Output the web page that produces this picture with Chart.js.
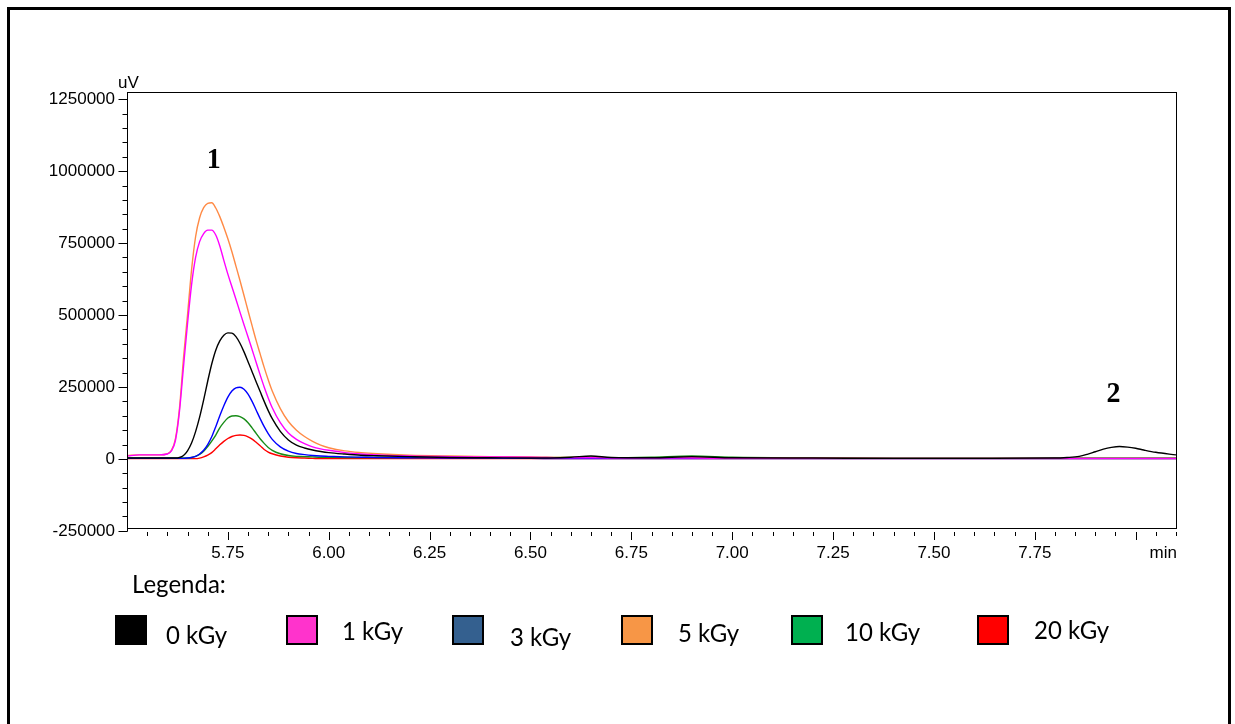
<!DOCTYPE html>
<html>
<head>
<meta charset="utf-8">
<script src="https://cdn.jsdelivr.net/npm/chart.js@4.4.1/dist/chart.umd.min.js"></script>
<style>
  html, body { margin: 0; padding: 0; background: #fff; }
  canvas { display: block; }
</style>
</head>
<body>
<canvas id="chart" width="1235" height="724"></canvas>
<script>
// Retention time (min) of every sample in the traces
const retentionTimes = [
  5.50, 5.53, 5.56, 5.58,
  5.60, 5.61, 5.62, 5.63, 5.64, 5.65, 5.66, 5.67, 5.68, 5.69,
  5.70, 5.71, 5.72, 5.73, 5.74, 5.75, 5.76, 5.77, 5.78, 5.79,
  5.80, 5.81, 5.82, 5.83, 5.84, 5.85, 5.86,
  5.88, 5.90, 5.92, 5.94, 5.96, 5.98, 6.00,
  6.04, 6.08, 6.12,
  6.20, 6.30, 6.40, 6.50, 6.60,
  6.65, 6.70, 6.80, 6.90, 7.00,
  7.20, 7.40, 7.60, 7.80,
  7.83, 7.86, 7.88, 7.90, 7.92, 7.94, 7.96, 7.98, 8.00, 8.02, 8.05, 8.10
];

const doseLabels = ['0 kGy', '1 kGy', '3 kGy', '5 kGy', '10 kGy', '20 kGy'];

// Detector signal (uV) for each irradiation dose
const signal0kGy = [
  3000, 3000, 3000, 3000,
  3000, 3000, 3000, 5000, 12000, 28000, 55000, 95000, 145000, 205000,
  270000, 330000, 378000, 410000, 430000, 438000, 437000, 425000, 402000, 372000,
  338000, 303000, 268000, 234000, 200000, 168000, 140000,
  96000, 66000, 48000, 38000, 31000, 26000, 22000,
  17000, 13000, 11000,
  8000, 5000, 4000, 3000, 6000,
  10000, 5000, 4000, 8000, 4000,
  3000, 2000, 2000, 3000,
  5000, 9000, 16000, 25000, 34000, 40000, 43000, 41000, 37000, 31000, 23000, 14000
];
const signal1kGy = [
  10000, 14000, 14000, 14000,
  17000, 28000, 64000, 165000, 320000, 470000, 605000, 700000, 755000, 783000,
  795000, 795000, 778000, 740000, 690000, 642000, 598000, 555000, 510000, 466000,
  424000, 380000, 336000, 292000, 250000, 212000, 178000,
  126000, 90000, 68000, 53000, 42000, 35000, 30000,
  22000, 17000, 14000,
  10000, 8000, 7000, 6000, 4000,
  4000, 3000, 3000, 3000, 2000,
  2000, 2000, 2000, 2000,
  2000, 2000, 2000, 2000, 2000, 2000, 2000, 2000, 2000, 2000, 2000, 2000
];
const signal3kGy = [
  2000, 2000, 2000, 2000,
  2000, 2000, 2000, 2000, 2000, 3000, 5000, 9000, 17000, 30000,
  50000, 77000, 112000, 150000, 185000, 215000, 236000, 247000, 249000, 242000,
  225000, 200000, 170000, 140000, 112000, 88000, 68000,
  42000, 27000, 19000, 15000, 12000, 10000, 9000,
  7000, 6000, 5000,
  4000, 3000, 3000, 2000, 1000,
  1000, 1000, 1000, 1000, 1000,
  1000, 1000, 1000, 1000,
  1000, 1000, 1000, 1000, 1000, 1000, 1000, 1000, 1000, 1000, 1000, 1000
];
const signal5kGy = [
  12000, 14000, 14000, 14000,
  18000, 30000, 70000, 175000, 350000, 500000, 657000, 772000, 838000, 873000,
  888000, 890000, 872000, 842000, 805000, 765000, 720000, 670000, 620000, 568000,
  515000, 463000, 412000, 365000, 318000, 275000, 236000,
  175000, 130000, 100000, 78000, 61000, 48000, 39000,
  28000, 22000, 18000,
  13000, 10000, 8000, 7000, 5000,
  5000, 4000, 4000, 4000, 3000,
  3000, 2000, 2000, 2000,
  2000, 2000, 2000, 2000, 2000, 2000, 2000, 2000, 2000, 2000, 2000, 2000
];
const signal10kGy = [
  3000, 3000, 3000, 3000,
  3000, 3000, 3000, 3000, 3000, 3000, 5000, 9000, 16000, 27000,
  43000, 62000, 83000, 108000, 127000, 142000, 149000, 150000, 147000, 139000,
  126000, 108000, 89000, 70000, 54000, 40000, 30000,
  18000, 12000, 9000, 8000, 7000, 6000, 6000,
  5000, 5000, 5000,
  5000, 8000, 5000, 4000, 5000,
  6000, 4000, 6000, 10000, 6000,
  4000, 3000, 3000, 3000,
  3000, 3000, 3000, 3000, 3000, 3000, 3000, 3000, 3000, 3000, 3000, 3000
];
const signal20kGy = [
  1000, 1000, 1000, 1000,
  1000, 1000, 1000, 1000, 1000, 1000, 1000, 1000, 3000, 7000,
  13000, 22000, 35000, 49000, 61000, 71000, 78000, 82000, 83000, 82000,
  77000, 69000, 58000, 46000, 33000, 24000, 18000,
  10000, 6000, 4000, 3000, 2000, 1000, 1000,
  1000, 1000, 1000,
  1000, 1000, 1000, 1000, 1000,
  1000, 1000, 1000, 1000, 1000,
  1000, 1000, 1000, 1000,
  1000, 1000, 1000, 1000, 1000, 1000, 1000, 1000, 1000, 1000, 1000, 1000
];

// Axis ticks
const yTickValues = [-250000, 0, 250000, 500000, 750000, 1000000, 1250000];
const yTickLabels = ['-250000', '0', '250000', '500000', '750000', '1000000', '1250000'];
const xTickValues = [5.75, 6.00, 6.25, 6.50, 6.75, 7.00, 7.25, 7.50, 7.75];
const xTickLabels = ['5.75', '6.00', '6.25', '6.50', '6.75', '7.00', '7.25', '7.50', '7.75'];

// Peak numbering
const peakNames = ['1', '2'];
const peakTimes = [5.71, 7.95];

// ---------------------------------------------------------------------------

const seriesList = [signal0kGy, signal1kGy, signal3kGy, signal5kGy, signal10kGy, signal20kGy];
const lineColors = ['#000000', '#ff00ff', '#0000ff', '#ff8a45', '#178c17', '#ff0000'];
const swatchColors = ['#000000', '#ff33cc', '#34608f', '#f79646', '#00b050', '#ff0000'];

function fontAvailable(name) {
  const c = document.createElement('canvas').getContext('2d');
  const probe = '1250000 min uV';
  c.font = '40px monospace';
  const w0 = c.measureText(probe).width;
  c.font = '40px "' + name + '", monospace';
  return Math.abs(c.measureText(probe).width - w0) > 0.5;
}
const narrow = fontAvailable('Liberation Sans Narrow');
const axisFont = narrow
  ? { family: '"Liberation Sans Narrow", "Liberation Sans", Arial, sans-serif', size: 19 }
  : { family: '"Liberation Sans", Arial, sans-serif', size: 17 };
const axisFontCss = axisFont.size + 'px ' + axisFont.family;

function stretchedText(ctx, text, x, y, font, align, sy) {
  ctx.save();
  ctx.font = font;
  ctx.textAlign = align;
  ctx.textBaseline = 'alphabetic';
  ctx.translate(x, y);
  ctx.scale(1, sy);
  ctx.fillText(text, 0, 0);
  ctx.restore();
}

// Page frame, plot frame, minor/major tick marks, unit labels, peak numbers and legend
const chromatogramDecor = {
  id: 'chromatogramDecor',
  beforeDraw(chart) {
    const ctx = chart.ctx;
    ctx.save();
    ctx.fillStyle = '#ffffff';
    ctx.fillRect(0, 0, chart.width, chart.height);
    ctx.strokeStyle = '#000';
    ctx.lineWidth = 3;
    ctx.beginPath();
    ctx.moveTo(8.5, chart.height + 5);
    ctx.lineTo(8.5, 8.5);
    ctx.lineTo(1229.5, 8.5);
    ctx.lineTo(1229.5, chart.height + 5);
    ctx.stroke();
    ctx.restore();
  },
  afterDraw(chart) {
    const ctx = chart.ctx;
    const area = chart.chartArea;
    const xs = chart.scales.x, ys = chart.scales.y;
    ctx.save();
    ctx.strokeStyle = '#000';
    ctx.fillStyle = '#000';
    ctx.lineWidth = 1;

    // plot frame
    ctx.strokeRect(Math.round(area.left) + 0.5, Math.round(area.top) + 0.5,
      Math.round(area.right - area.left), Math.round(area.bottom - area.top));

    // y axis ticks (major every 250000, minor every 50000)
    const ax = Math.round(area.left) + 0.5;
    const yLow = ys.getPixelForValue(-250000);
    ctx.beginPath();
    ctx.moveTo(ax, area.bottom);
    ctx.lineTo(ax, Math.round(yLow) + 0.5);
    for (let v = -250000; v <= 1250000; v += 50000) {
      const py = Math.round(ys.getPixelForValue(v)) + 0.5;
      const len = (v % 250000 === 0) ? 9 : 5;
      ctx.moveTo(ax - len, py);
      ctx.lineTo(ax, py);
    }
    ctx.stroke();

    // x axis ticks (major every 0.25 min, minor every 0.05 min)
    const ty = Math.round(area.bottom) + 4;
    ctx.beginPath();
    for (let k = 111; k <= 162; k++) {
      const t = k / 20;
      const px = Math.round(xs.getPixelForValue(t)) + 0.5;
      const len = (k % 5 === 0) ? 8 : 4;
      ctx.moveTo(px, ty);
      ctx.lineTo(px, ty + len);
    }
    ctx.stroke();

    // unit labels
    ctx.font = axisFontCss;
    ctx.textBaseline = 'alphabetic';
    ctx.textAlign = 'left';
    ctx.fillText('uV', area.left - 9, area.top - 4);
    ctx.textAlign = 'right';
    ctx.fillText('min', area.right + 1, 558);

    // peak numbers
    const peakFont = 'bold 28px "Liberation Serif", "Times New Roman", serif';
    stretchedText(ctx, peakNames[0], xs.getPixelForValue(peakTimes[0]) + 2, 168, peakFont, 'center', 1.08);
    stretchedText(ctx, peakNames[1], xs.getPixelForValue(peakTimes[1]) - 2, 402, peakFont, 'center', 1.08);

    // legend
    const legendFont = '24px Lato, "Open Sans", sans-serif';
    stretchedText(ctx, 'Legenda:', 132, 593, legendFont, 'left', 1.06);
    const swatchX = [116, 287, 453, 622, 792, 978];
    const textX = [166, 342, 510, 678, 845, 1034];
    const textY = [644, 640, 646, 642, 641, 639];
    chart.data.datasets.forEach((ds, i) => {
      ctx.fillStyle = swatchColors[i];
      ctx.fillRect(swatchX[i], 616, 30, 28);
      ctx.strokeStyle = '#000';
      ctx.lineWidth = 2;
      ctx.strokeRect(swatchX[i], 616, 30, 28);
      ctx.fillStyle = '#000';
      stretchedText(ctx, ds.label, textX[i], textY[i], legendFont, 'left', 1.06);
    });
    ctx.restore();
  }
};

const datasets = seriesList.map((vals, i) => ({
  label: doseLabels[i],
  data: vals.map((v, j) => ({ x: retentionTimes[j], y: v })),
  borderColor: lineColors[i],
  backgroundColor: lineColors[i],
  borderWidth: 1.4,
  pointRadius: 0,
  fill: false,
  cubicInterpolationMode: 'monotone'
}));

new Chart(document.getElementById('chart'), {
  type: 'line',
  data: { datasets },
  options: {
    responsive: false,
    animation: false,
    devicePixelRatio: 1,
    layout: { padding: { left: 0, right: 59, top: 92, bottom: 156 } },
    plugins: { legend: { display: false }, tooltip: { enabled: false } },
    scales: {
      x: {
        type: 'linear',
        min: 5.5,
        max: 8.1,
        grid: { display: false, drawTicks: false },
        border: { display: false },
        afterBuildTicks: s => { s.ticks = xTickValues.map(v => ({ value: v })); },
        afterFit: s => { s.height = 40; },
        ticks: {
          autoSkip: false,
          maxRotation: 0,
          padding: 15,
          color: '#000',
          font: axisFont,
          callback: (v, i) => xTickLabels[i]
        }
      },
      y: {
        type: 'linear',
        min: -240000,
        max: 1275000,
        grid: { display: false, drawTicks: false },
        border: { display: false },
        afterBuildTicks: s => { s.ticks = yTickValues.map(v => ({ value: v })); },
        afterFit: s => { s.width = 127; },
        ticks: {
          autoSkip: false,
          padding: 12,
          color: '#000',
          font: axisFont,
          callback: (v, i) => yTickLabels[i]
        }
      }
    }
  },
  plugins: [chromatogramDecor]
});
</script>
</body>
</html>
